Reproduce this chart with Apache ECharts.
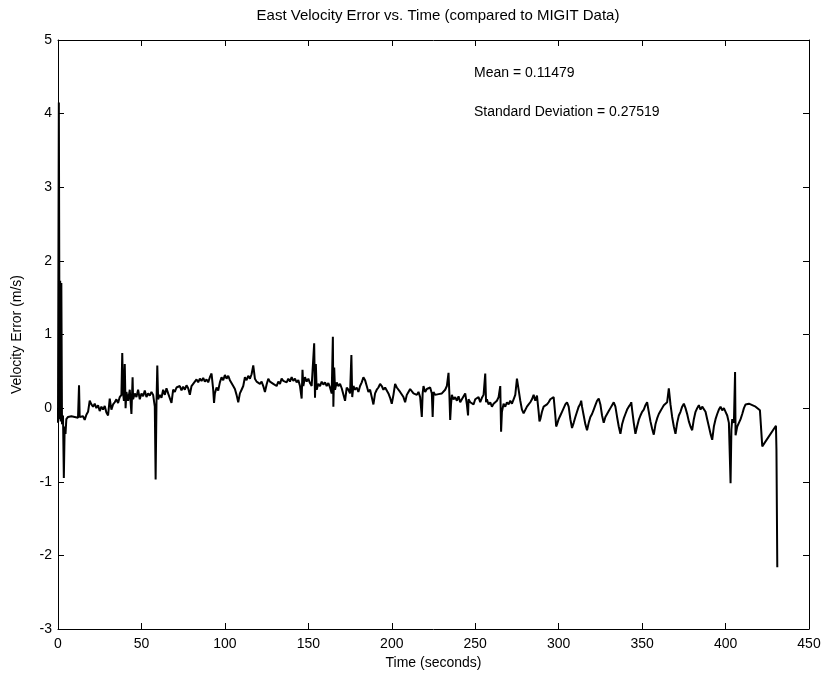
<!DOCTYPE html>
<html><head><meta charset="utf-8">
<script src="https://cdn.jsdelivr.net/npm/echarts@6/dist/echarts.min.js"></script>
<style>html,body{margin:0;padding:0;background:#fff}#c{width:827px;height:681px}</style>
</head><body><div id="c"></div>
<script>
const titleText = "East Velocity Error vs. Time (compared to MIGIT Data)";
const xName = "Time (seconds)";
const yName = "Velocity Error (m/s)";
const annMean = "Mean = 0.11479";
const annStd = "Standard Deviation = 0.27519";
const xTicks = [0,50,100,150,200,250,300,350,400,450];
const yTicks = [-3,-2,-1,0,1,2,3,4,5];

const time = [
0,0.5,1,1.3,1.6,2,2.4,3,3.5,4,4.5,5,6,7,8,9,10,
11,12,12.6,13,14,15,16,17,18,19,20,21,22,23,24,25,26,27,28,29,30,
31,32,33,34,35,36,37,38,38.5,39,39.5,40,40.5,41,42,43,44,44.7,45,46,47,48,49,50,
51,52,53,54,55,56,57,58,58.5,59,59.5,60,61,62,63,64,65,66,67,68,69,70,
71,72,73,74,75,76,77,78,79,80,81,82,83,84,85,86,87,88,89,90,
91,92,93,93.5,94,95,96,97,98,99,100,101,102,103,104,105,106,107,108,109,110,
111,112,113,114,115,116,117,118,119,120,121,122,123,124,125,126,127,128,129,130,
131,132,133,134,135,136,137,138,139,140,141,142,143,144,145,146,146.5,147,148,149,150,
151,152,153,153.5,154,154.5,155,156,157,158,159,160,161,162,163,164,164.7,165,165.5,166,167,168,169,170,
171,172,173,174,175,175.8,176.3,177,178,179,180,181,182,183,184,185,186,187,188,189,190,
191,192,193,194,195,196,197,198,199,200,201,202,203,204,205,206,207,208,209,210,
211,212,213,214,215,216,217,218,218.5,219,220,221,222,223,224,224.5,225,226,227,228,229,230,
231,232,233,234,234.5,235,235.5,236,237,238,239,240,241,242,243,244,245,245.7,246,247,248,249,250,
251,252,253,254,255,256,256.5,257,258,259,260,261,262,263,264,265,265.5,266,267,268,269,270,
271,272,273,274,275,276,277,278,279,280,281,282,283,284,285,286,287,288,288.5,289,290,
291,292,293,294,295,296,297,298,298.5,299,300,301,302,303,304,305,306,307,308,309,310,
311,312,313,313.5,314,315,316,317,318,319,320,321,322,323,324,325,326,327,328,329,330,
331,332,333,334,335,336,337,338,339,340,341,342,343,343.5,344,345,346,347,348,349,350,
351,352,353,354,355,356,357,358,359,360,361,362,363,364,365,366,367,368,369,370,
371,372,373,374,375,376,377,378,379,380,381,382,383,384,385,386,387,388,389,390,
391,392,393,394,395,396,397,398,399,400,401,402,403,403.5,404,405,405.7,406,407,408,409,410,
411,412,412.7,414,416,418,420.6,421,422,430.2,430.5,431
];
const velErr = [
-0.20,4.15,-0.15,1.73,-0.18,1.70,-0.22,-0.10,-0.95,-0.25,-0.35,-0.15,-0.12,-0.14,-0.11,-0.13,-0.12,
-0.10,-0.13,0.31,-0.12,-0.14,-0.11,-0.16,-0.09,-0.05,0.10,0.05,0.02,0.06,0.00,0.04,-0.04,0.02,-0.02,0.03,-0.06,-0.10,
0.13,-0.02,0.05,0.08,0.12,0.07,0.15,0.18,0.75,0.20,0.10,0.60,0.00,0.22,0.10,0.25,-0.08,0.42,0.12,0.20,0.15,0.25,0.12,0.20,
0.16,0.24,0.15,0.20,0.17,0.22,0.18,0.02,-0.97,0.05,0.58,0.12,0.18,0.14,0.25,0.18,0.27,0.20,0.22,0.07,0.25,0.22,
0.28,0.26,0.30,0.24,0.29,0.25,0.31,0.27,0.18,0.30,0.33,0.36,0.39,0.35,0.40,0.37,0.41,0.36,0.39,0.35,
0.42,0.47,0.25,0.07,0.20,0.28,0.24,0.35,0.42,0.38,0.45,0.40,0.44,0.38,0.36,0.30,0.26,0.18,0.08,0.20,0.25,
0.30,0.42,0.38,0.44,0.40,0.46,0.58,0.40,0.36,0.38,0.33,0.36,0.30,0.22,0.32,0.40,0.36,0.38,0.33,0.35,
0.30,0.36,0.33,0.40,0.37,0.38,0.35,0.40,0.36,0.42,0.37,0.40,0.35,0.38,0.30,0.13,0.52,0.30,0.42,0.36,0.40,
0.34,0.30,0.28,0.88,0.14,0.60,0.25,0.33,0.30,0.36,0.32,0.35,0.30,0.34,0.28,0.20,0.97,0.02,0.55,0.25,0.35,0.30,0.33,0.27,
0.28,0.10,0.28,0.25,0.20,0.72,0.15,0.30,0.25,0.28,0.22,0.30,0.35,0.42,0.38,0.30,0.22,0.25,0.15,0.05,0.20,
0.25,0.28,0.33,0.30,0.25,0.28,0.24,0.20,0.14,0.06,0.18,0.33,0.28,0.26,0.22,0.20,0.15,0.08,0.18,0.22,
0.26,0.24,0.20,0.22,0.18,0.22,0.15,-0.12,0.20,0.30,0.22,0.26,0.24,0.28,0.20,-0.12,0.22,0.18,0.20,0.19,0.18,0.20,
0.18,0.25,0.30,0.48,0.20,-0.16,0.05,0.18,0.12,0.15,0.10,0.16,0.08,0.12,0.10,0.20,0.05,-0.10,0.12,0.08,0.10,0.05,0.12,
0.10,0.15,0.08,0.14,0.18,0.47,0.08,0.12,0.05,0.08,0.02,0.06,0.05,0.10,0.15,0.30,-0.32,-0.05,0.06,0.02,0.08,0.05,
0.10,0.06,0.12,0.18,0.40,0.25,0.10,-0.02,-0.07,-0.05,0.02,0.05,0.08,0.12,0.18,0.10,0.17,-0.05,-0.18,-0.15,-0.05,
0.02,0.00,0.05,0.08,0.12,0.10,0.15,-0.10,-0.25,-0.22,-0.15,-0.10,-0.05,0.00,0.05,0.08,0.02,-0.15,-0.27,-0.20,-0.12,
-0.05,0.02,0.06,0.10,0.02,-0.10,-0.22,-0.30,-0.20,-0.12,-0.08,-0.02,0.04,0.10,0.13,0.05,-0.10,-0.20,-0.12,-0.08,-0.04,
0.00,0.04,0.08,0.02,-0.12,-0.25,-0.35,-0.22,-0.14,-0.08,-0.02,0.02,0.05,0.08,-0.02,-0.20,-0.35,-0.25,-0.16,-0.10,-0.05,
-0.02,0.04,0.08,-0.05,-0.18,-0.28,-0.36,-0.22,-0.14,-0.08,-0.04,0.00,0.04,0.02,0.08,0.27,0.05,-0.12,-0.25,-0.35,
-0.20,-0.10,-0.05,0.02,0.06,0.00,-0.08,-0.18,-0.25,-0.30,-0.15,-0.05,0.00,0.04,-0.02,0.02,0.00,-0.05,-0.15,-0.25,
-0.35,-0.43,-0.25,-0.15,-0.08,-0.02,0.02,-0.03,0.00,-0.05,-0.10,-0.20,-1.02,-0.29,-0.15,-0.20,0.49,-0.37,-0.25,-0.20,-0.15,-0.08,
0.00,0.05,0.07,0.06,0.04,0.02,-0.03,-0.03,-0.52,-0.24,-0.57,-2.16
];

const data = time.map((t,i)=>[t, velErr[i]]);
const font = "'Liberation Sans', Arial, sans-serif";
const chart = echarts.init(document.getElementById('c'), null, {renderer:'canvas'});
const lblStyle = {color:'#000', fontFamily:font, fontSize:14};
const axLine = {show:true, onZero:false, lineStyle:{color:'#000', width:1}};
const tick = {show:true, inside:true, length:6, lineStyle:{color:'#000', width:1}};
chart.setOption({
  animation:false,
  backgroundColor:'#fff',
  title:{text:titleText, left:433, top:3, textAlign:'center',
    textStyle:{color:'#000', fontFamily:font, fontSize:15, fontWeight:'normal'}},
  grid:{left:58, right:18, top:40, bottom:52, containLabel:false},
  xAxis:[
    {type:'value', min:xTicks[0], max:xTicks[xTicks.length-1], interval:50, position:'bottom',
     name:xName, nameLocation:'middle', nameGap:27, nameTextStyle:lblStyle,
     axisLine:axLine, axisTick:tick, axisLabel:Object.assign({margin:8}, lblStyle), splitLine:{show:false}},
    {type:'value', min:xTicks[0], max:xTicks[xTicks.length-1], interval:50, position:'top',
     axisLine:axLine, axisTick:tick, axisLabel:{show:false}, splitLine:{show:false}}
  ],
  yAxis:[
    {type:'value', min:yTicks[0], max:yTicks[yTicks.length-1], interval:1, position:'left',
     name:yName, nameLocation:'middle', nameGap:34, nameRotate:90, nameTextStyle:lblStyle,
     axisLine:axLine, axisTick:tick, axisLabel:Object.assign({margin:6}, lblStyle), splitLine:{show:false}},
    {type:'value', min:yTicks[0], max:yTicks[yTicks.length-1], interval:1, position:'right',
     axisLine:axLine, axisTick:tick, axisLabel:{show:false}, splitLine:{show:false}}
  ],
  graphic:[
    {type:'text', left:474, top:66, style:{text:annMean, fill:'#000', font:'14px '+font}},
    {type:'text', left:474, top:105, style:{text:annStd, fill:'#000', font:'14px '+font}}
  ],
  series:[{type:'line', data:data, xAxisIndex:0, yAxisIndex:0, showSymbol:false, symbol:'none',
    lineStyle:{color:'#000', width:2}, clip:true}]
});
</script></body></html>
